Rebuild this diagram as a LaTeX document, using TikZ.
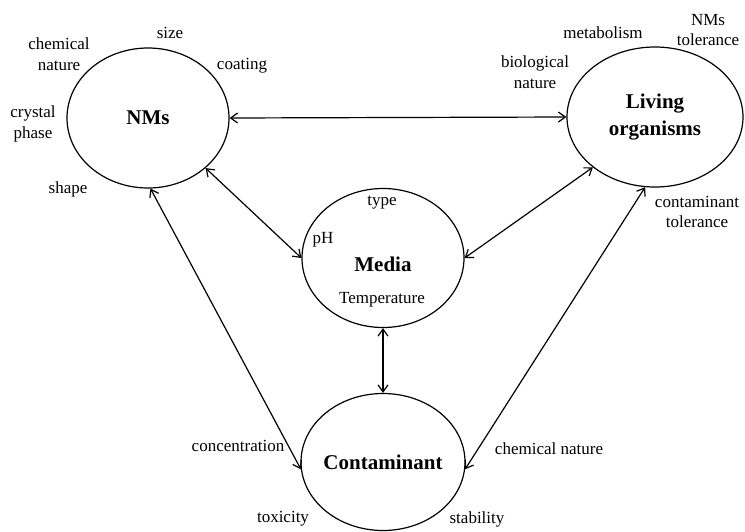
\documentclass[tikz,border=0pt]{standalone}
\usepackage{fontspec}
\setmainfont{Liberation Serif}
\usetikzlibrary{shapes.geometric,arrows.meta}
\begin{document}
\begin{tikzpicture}[x=1pt, y=-1pt,
  blob/.style={draw, ellipse, line width=1.2pt, inner sep=0pt},
  lbl/.style={align=center, font=\fontsize{17}{20.5}\selectfont, inner sep=0pt},
  main/.style={align=center, font=\fontsize{21}{27}\selectfont\bfseries, inner sep=0pt},
  link/.style={line width=1.2pt, {Straight Barb[length=7pt,width=10pt]}-{Straight Barb[length=7pt,width=10pt]}}]
\useasboundingbox (0,0) rectangle (745,531);
% the four ellipses
\node[blob, minimum width=162pt, minimum height=140pt] (NMs) at (148,118) {};
\node[blob, minimum width=176pt, minimum height=140pt] (LO) at (655,117) {};
\node[blob, minimum width=162pt, minimum height=139pt] (Med) at (383,258) {};
\node[blob, minimum width=164pt, minimum height=137pt] (Con) at (383,462) {};
\node[main] (T_NMs) at (148,118) {NMs};
\node[main] (T_LO) at (655,117) {Living\\organisms};
\node[main] (T_Med) at (383,264) {Media};
\node[main] (T_Con) at (383,462) {Contaminant};
% arrows
\draw[link] (NMs.east) -- (LO.west);
\draw[link] (NMs.-41) -- (Med.west);
\draw[link] (NMs.-88) -- (Con.185);
\draw[link] (LO.-141) -- (Med.east);
\draw[link] (LO.-98) -- (Con.-5);
\draw[link] (Med.south) -- (Con.north);
% NMs properties
\node[lbl] (L_size) at (170,33) {size};
\node[lbl] (L_chem) at (59,54) {chemical\\nature};
\node[lbl] (L_coat) at (242,66) {coating};
\node[lbl] (L_crys) at (33,124) {crystal\\phase};
\node[lbl] (L_shape) at (68,189) {shape};
% living organisms properties
\node[lbl] (L_meta) at (603,33) {metabolism};
\node[lbl] (L_tol) at (708,30) {NMs\\tolerance};
\node[lbl] (L_bio) at (535,72) {biological\\nature};
\node[lbl] (L_ctol) at (697,212) {contaminant\\tolerance};
% media properties
\node[lbl] (L_type) at (382,203) {type};
\node[lbl] (L_pH) at (323,240) {pH};
\node[lbl] (L_temp) at (382,300) {Temperature};
% contaminant properties
\node[lbl] (L_conc) at (238,446) {concentration};
\node[lbl] (L_cnat) at (549,449) {chemical nature};
\node[lbl] (L_tox) at (283,519) {toxicity};
\node[lbl] (L_stab) at (477,519) {stability};
\end{tikzpicture}
\end{document}
